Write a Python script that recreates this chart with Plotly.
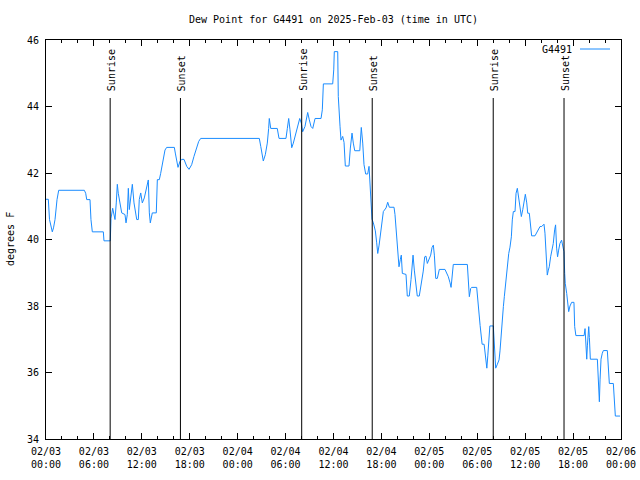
import pandas as pd
import plotly.graph_objects as go

# ---------------- data ----------------
start = "2025-02-03 00:00"
hours_since_start = [
    0.00, 0.29, 0.44, 0.63, 0.79, 0.94, 1.13, 1.38, 1.59, 4.80, 4.97, 5.10, 5.51, 5.63, 5.80, 7.18, 7.26, 8.05,
    8.14, 8.35, 8.52, 8.64, 8.80, 8.93, 9.05, 9.27, 9.48, 9.89, 10.02, 10.18, 10.31, 10.43, 10.61, 10.81, 11.02,
    11.23, 11.36, 11.56, 11.68, 11.86, 12.06, 12.31, 12.61, 12.81, 12.94, 13.06, 13.31, 13.81, 13.94, 14.19, 14.36,
    14.61, 14.90, 15.11, 16.07, 16.19, 16.37, 16.53, 16.78, 16.99, 17.28, 17.62, 17.91, 18.24, 18.53, 18.87, 19.12,
    19.37, 26.71, 26.89, 27.05, 27.21, 27.46, 27.71, 27.88, 27.96, 28.14, 28.96, 29.18, 30.05, 30.22, 30.39, 30.55,
    30.77, 30.97, 31.18, 31.39, 31.59, 31.77, 31.97, 32.14, 32.43, 32.65, 32.77, 32.97, 33.18, 33.40, 33.69, 34.44,
    34.60, 34.73, 35.90, 36.03, 36.10, 36.53, 36.60, 36.82, 36.94, 37.15, 37.32, 37.48, 37.94, 38.11, 38.32, 38.48,
    38.66, 39.29, 39.48, 39.66, 39.82, 40.03, 40.28, 40.45, 40.54, 40.70, 40.82, 40.99, 41.24, 41.41, 41.54, 41.71,
    41.87, 42.04, 42.24, 42.58, 42.79, 42.99, 43.58, 43.70, 43.92, 44.04, 44.20, 44.37, 44.49, 44.62, 45.08, 45.24,
    45.49, 45.71, 45.83, 45.96, 46.12, 46.33, 46.49, 46.74, 47.04, 47.24, 47.42, 47.58, 47.75, 48.00, 48.17, 48.34,
    48.50, 48.63, 48.80, 49.00, 49.25, 49.96, 50.18, 50.38, 50.59, 50.72, 50.80, 51.00, 52.76, 52.88, 53.01, 53.18,
    53.31, 53.93, 54.07, 54.24, 54.36, 54.48, 54.61, 54.86, 55.02, 55.11, 55.20, 55.32, 55.58, 56.01, 56.10, 56.22,
    56.31, 56.52, 56.73, 56.85, 56.98, 57.10, 57.27, 57.39, 57.52, 57.69, 57.81, 57.94, 58.10, 58.27, 58.39, 58.52,
    58.73, 58.86, 59.02, 59.19, 59.36, 59.52, 59.70, 59.86, 60.02, 60.20, 60.32, 60.52, 60.69, 60.81, 61.23, 61.44,
    61.65, 61.86, 62.07, 62.36, 62.48, 62.61, 62.77, 62.90, 63.02, 63.19, 63.36, 63.52, 63.69, 63.81, 63.94, 64.06,
    64.19, 64.35, 64.56, 64.69, 64.86, 64.95, 65.02, 65.20, 65.32, 65.45, 65.61, 65.82, 66.11, 66.20, 66.35, 67.38,
    67.50, 67.58, 67.71, 67.79, 67.96, 68.04, 68.16, 69.04, 69.13, 69.29, 69.38, 69.50, 69.66, 69.79, 70.29, 70.41,
    70.54, 71.04, 71.17, 71.29, 71.88,
]
dewpoint_f = [
    41.21, 41.21, 40.60, 40.35, 40.23, 40.35, 40.60, 41.20, 41.48, 41.48, 41.39, 41.20, 41.20, 40.60, 40.23, 40.23, 39.96, 39.96,
    40.64, 40.94, 40.75, 40.60, 41.10, 41.66, 41.39, 41.10, 40.80, 40.75, 40.50, 40.75, 41.54, 40.90, 41.30, 41.66, 41.10,
    40.85, 40.60, 40.60, 41.20, 41.40, 41.10, 41.25, 41.60, 41.79, 40.80, 40.50, 40.80, 40.80, 41.80, 41.80, 41.99,
    42.30, 42.69, 42.77, 42.77, 42.60, 42.30, 42.17, 42.35, 42.41, 42.41, 42.20, 42.11, 42.25, 42.50, 42.80, 42.95,
    43.04, 43.04, 42.80, 42.50, 42.36, 42.55, 42.90, 43.34, 43.64, 43.34, 43.34, 43.04, 43.04, 43.34, 43.64, 43.30,
    42.76, 42.90, 43.10, 43.34, 43.50, 43.64, 43.50, 43.24, 43.40, 43.70, 43.82, 43.60, 43.40, 43.34, 43.64, 43.64,
    43.90, 44.68, 44.68, 45.10, 45.65, 45.65, 44.30, 43.39, 42.99, 43.10, 42.92, 42.21, 42.21, 42.75, 43.20, 42.90,
    42.67, 42.67, 43.37, 42.90, 42.25, 41.97, 41.97, 42.20, 41.85, 41.09, 40.61, 40.50, 40.26, 39.90, 39.58, 39.83,
    40.19, 40.50, 40.84, 40.95, 41.12, 40.97, 40.97, 40.75, 39.98, 39.53, 39.18, 39.40, 39.53, 38.98, 38.95, 38.30,
    38.30, 38.80, 39.30, 39.53, 39.08, 38.60, 38.30, 38.30, 38.75, 39.05, 39.48, 39.50, 39.28, 39.40, 39.53, 39.76,
    39.83, 39.53, 38.83, 38.83, 39.10, 39.10, 38.98, 38.88, 38.70, 38.56, 38.75, 39.25, 39.25, 38.53, 38.28, 38.53,
    38.56, 38.56, 38.08, 37.73, 37.41, 37.03, 36.85, 36.85, 36.58, 36.35, 36.13, 36.50, 37.40, 37.40, 37.00, 36.50,
    36.13, 36.25, 36.38, 36.65, 37.13, 37.53, 37.98, 38.28, 38.60, 38.93, 39.28, 39.58, 39.77, 40.08, 40.59, 40.84,
    40.84, 41.39, 41.54, 41.20, 40.90, 40.69, 40.90, 41.20, 41.36, 41.10, 40.79, 40.79, 40.30, 40.11, 40.11, 40.21,
    40.31, 40.39, 40.39, 40.46, 40.19, 39.68, 38.93, 39.08, 39.18, 39.48, 39.73, 39.88, 40.29, 40.44, 39.74, 39.48,
    39.68, 39.88, 39.98, 39.78, 39.63, 38.98, 38.68, 38.38, 37.98, 37.83, 38.00, 38.11, 38.11, 37.38, 37.11, 37.11,
    37.32, 36.90, 36.40, 36.80, 37.38, 37.05, 36.40, 36.40, 35.80, 35.12, 35.80, 36.40, 36.58, 36.66, 36.66, 36.00,
    35.67, 35.67, 35.00, 34.69, 34.69,
]
sunrise_times = ["2025-02-03 08:02", "2025-02-04 08:01", "2025-02-05 08:00"]
sunset_times = ["2025-02-03 16:50", "2025-02-04 16:51", "2025-02-05 16:52"]
station = "G4491"
title_text = "Dew Point for G4491 on 2025-Feb-03 (time in UTC)"
y_label = "degrees F"

# ---------------- figure ----------------
FONT = "DejaVu Sans Mono"
times = pd.Timestamp(start) + pd.to_timedelta(hours_since_start, unit="h")

fig = go.Figure()
fig.add_trace(go.Scatter(
    x=times, y=dewpoint_f, mode="lines",
    line=dict(color="#1a8cff", width=1),
    name=station, showlegend=False, hoverinfo="skip",
))

L, R, T, B = 46, 621, 40, 439
W, H = R - L, B - T


def px_to_paper_x(px):
    return (px - L) / W


def px_to_paper_y(py):
    return (B - py) / H


shapes = []
annotations = []
line_top = 34 + (B - 98) / (H / 12)
label_bottom = 34 + (B - 93) / (H / 12)
for label, tlist in (("Sunrise", sunrise_times), ("Sunset", sunset_times)):
    for t in tlist:
        shapes.append(dict(type="line", xref="x", yref="y", x0=t, x1=t, y0=34, y1=line_top,
                           line=dict(color="black", width=1)))
        annotations.append(dict(xref="x", yref="y", x=t, y=label_bottom, text=label,
                                textangle=-90, showarrow=False, xanchor="center", yanchor="bottom",
                                xshift=1, font=dict(family=FONT, size=10, color="black")))

# legend (drawn manually, gnuplot style)
shapes.append(dict(type="line", xref="paper", yref="paper",
                   x0=px_to_paper_x(580), x1=px_to_paper_x(610),
                   y0=px_to_paper_y(49), y1=px_to_paper_y(49),
                   line=dict(color="#1a8cff", width=1)))
annotations.append(dict(xref="paper", yref="paper", x=px_to_paper_x(574), y=px_to_paper_y(49.5),
                        text=station, showarrow=False, xanchor="right", yanchor="middle",
                        font=dict(family=FONT, size=10, color="black")))
# y axis label
annotations.append(dict(xref="paper", yref="paper", x=px_to_paper_x(10), y=px_to_paper_y(239),
                        text=y_label, textangle=-90, showarrow=False, xanchor="center",
                        yanchor="middle", font=dict(family=FONT, size=10, color="black")))

fig.update_layout(
    width=640, height=480, autosize=False,
    margin=dict(l=L, r=640 - R, t=T, b=480 - B, pad=0, autoexpand=False),
    paper_bgcolor="white", plot_bgcolor="white",
    font=dict(family=FONT, size=10, color="black"),
    title=dict(text=title_text, x=0.5, xref="paper", y=1 - 19.5 / 480, yref="container",
               xanchor="center", yanchor="middle", automargin=False,
               font=dict(family=FONT, size=10, color="black")),
    shapes=shapes, annotations=annotations, showlegend=False,
)
fig.update_xaxes(
    type="date", range=["2025-02-03 00:00", "2025-02-06 00:00"], automargin=False,
    dtick=6 * 3600 * 1000, tick0="2025-02-03 00:00", tickformat="%m/%d<br>%H:%M",
    ticks="inside", ticklen=6, tickcolor="black", tickwidth=1,
    showline=True, linecolor="black", linewidth=1, mirror="ticks",
    showgrid=False, zeroline=False, ticklabelstandoff=3,
    minor=dict(dtick=2 * 3600 * 1000, ticks="inside", ticklen=3, tickcolor="black", showgrid=False),
    tickfont=dict(family=FONT, size=10, color="black"),
)
fig.update_yaxes(
    range=[34, 46], dtick=2, tick0=34, automargin=False,
    ticks="inside", ticklen=6, tickcolor="black", tickwidth=1,
    showline=True, linecolor="black", linewidth=1, mirror="ticks",
    showgrid=False, zeroline=False, ticklabelstandoff=4,
    tickfont=dict(family=FONT, size=10, color="black"),
)

fig.write_html("out.html")
